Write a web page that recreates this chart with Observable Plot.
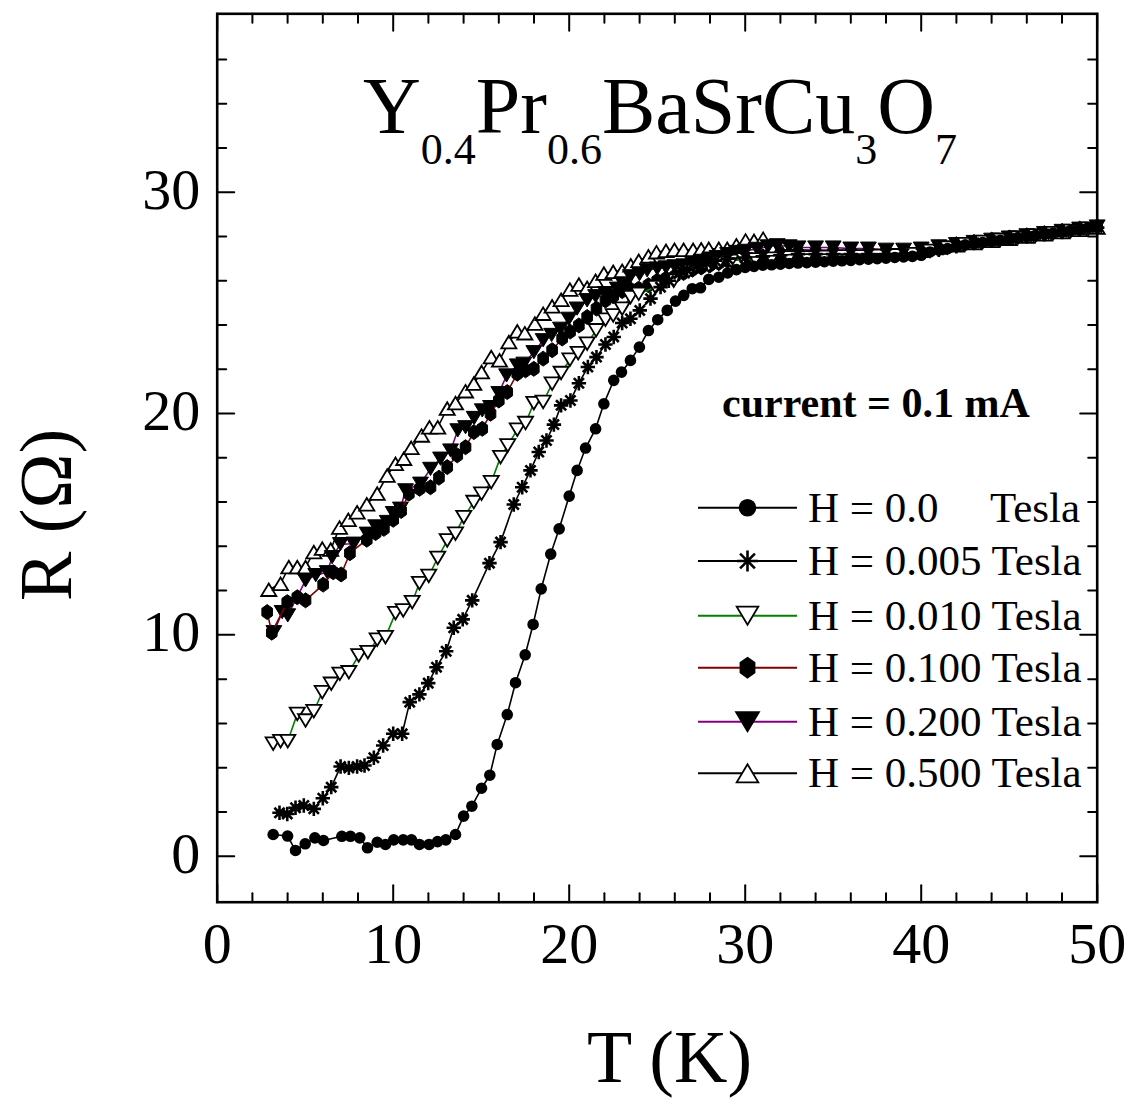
<!DOCTYPE html>
<html>
<head>
<meta charset="utf-8">
<script src="https://cdn.jsdelivr.net/npm/d3@7"></script>
<script src="https://cdn.jsdelivr.net/npm/@observablehq/plot@0.6"></script>
<style>
  html, body { margin: 0; padding: 0; background: #fff; }
  svg { display: block; }
</style>
</head>
<body>
<div id="chart"></div>
<script>
// ---------------- data ----------------
const fieldLabels = ["H = 0.0", "H = 0.005 Tesla", "H = 0.010 Tesla", "H = 0.100 Tesla", "H = 0.200 Tesla", "H = 0.500 Tesla"];

const T_000 = [3.18,4.0,4.45,5.0,5.55,6.04,7.08,7.57,8.1,8.54,9.09,9.56,10.03,10.57,11.04,11.49,12.04,12.52,12.99,13.54,14.0,14.47,15.02,15.49,15.91,16.48,16.95,17.5,17.95,18.41,18.95,19.43,20.0,20.45,20.93,21.5,21.97,22.53,22.97,23.48,23.99,24.5,25.03,25.57,26.04,26.51,26.99,27.46,27.93,28.5,29.0,29.5,30.0,30.5,31.0,31.5,32.0,32.5,33.0,33.5,34.0,34.5,35.0,35.5,36.0,36.5,37.0,37.5,38.0,38.5,39.0,39.5,40.0,40.5,41.0,41.5,42.0,42.5,43.0,43.5,44.0,44.5,45.0,45.5,46.0,46.5,47.0,47.5,48.0,48.5,49.0,49.5,50.0];
const R_000 = [0.98,0.91,0.26,0.56,0.83,0.71,0.90,0.90,0.83,0.38,0.63,0.53,0.74,0.74,0.74,0.53,0.53,0.66,0.74,0.98,1.81,2.26,3.07,3.66,5.05,6.40,7.84,9.10,10.47,12.08,13.65,14.79,16.27,17.43,18.44,19.31,20.44,21.5,21.87,22.4,23.0,23.75,24.24,24.66,25.08,25.34,25.64,25.68,26.06,26.16,26.35,26.5,26.6,26.65,26.7,26.72,26.75,26.78,26.8,26.82,26.84,26.86,26.88,26.9,26.92,26.95,26.97,27.0,27.02,27.05,27.08,27.1,27.15,27.3,27.38,27.45,27.55,27.62,27.68,27.73,27.78,27.83,27.9,27.95,28.0,28.05,28.1,28.15,28.22,28.28,28.33,28.4,28.45];

const T_005 = [3.54,3.98,4.45,4.92,5.49,6.0,6.48,7.01,7.48,7.95,8.37,8.9,9.43,10.0,10.51,10.94,11.49,11.99,12.46,13.01,13.44,13.95,14.49,15.47,16.1,16.85,17.33,17.8,18.27,18.71,19.13,19.54,20.07,20.55,21.06,21.55,22.06,22.53,23.01,23.48,24.01,24.62,25.19,25.66,26.23,26.7,27.27,27.8,28.3,29.0,30.0,31.0,32.0,33.0,34.0,35.0,36.0,37.0,38.0,39.0,40.0,41.0,42.0,43.0,44.0,45.0,46.0,47.0,48.0,49.0,50.0];
const R_005 = [1.96,1.91,2.19,2.29,2.14,2.62,3.12,4.05,3.99,4.05,4.10,4.45,5.0,5.53,5.53,6.96,7.31,7.82,8.54,9.26,10.32,10.7,11.56,13.24,14.19,15.89,16.67,17.43,18.26,18.78,19.5,20.37,20.59,21.37,22.1,22.55,23.12,23.46,24.09,24.28,24.66,25.19,25.71,26.0,26.32,26.5,26.69,26.8,26.9,27.0,27.05,27.1,27.15,27.2,27.2,27.2,27.2,27.2,27.2,27.22,27.25,27.4,27.55,27.7,27.8,27.9,28.0,28.1,28.2,28.3,28.4];

const T_010 = [3.18,3.6,4.01,4.55,5.02,5.49,5.97,6.48,6.97,7.48,8.04,8.56,9.09,9.56,10.13,10.57,11.08,11.49,12.02,12.53,13.07,13.54,14.01,14.58,15.02,15.57,16.1,16.51,17.05,17.52,17.99,18.52,19.03,19.54,20.04,20.51,21.02,21.53,22.06,22.5,23.01,23.48,23.95,24.9,25.94,26.8,27.93,28.5,29.2,29.92,30.58,31.5,32.5,33.5,34.5,35.5,36.5,37.5,38.5,39.5,40.5,41.5,42.5,43.5,44.5,45.5,46.5,47.5,48.5,49.5];
const R_010 = [5.08,5.2,5.2,6.43,6.13,6.55,7.41,7.79,8.24,8.31,9.07,9.22,9.78,9.9,10.98,11.1,11.48,12.34,12.66,13.48,14.27,14.57,15.32,16.0,16.38,16.9,18.03,18.56,19.27,19.57,20.47,20.52,21.35,21.83,22.43,22.73,23.16,23.76,24.24,24.43,24.74,25.26,25.41,25.71,26.0,26.43,26.69,26.8,26.9,26.96,26.96,27.0,27.05,27.05,27.08,27.1,27.1,27.12,27.15,27.2,27.35,27.5,27.65,27.75,27.85,27.95,28.05,28.15,28.25,28.35];

const T_100 = [2.84,3.1,3.98,4.55,5.02,6.02,6.59,7.04,7.54,8.5,9.0,9.47,10.0,10.45,10.89,11.5,12.12,12.6,13.07,13.64,14.11,14.58,15.06,15.53,16.0,16.48,17.05,17.52,17.99,18.52,19.03,19.6,20.05,20.55,21.02,21.55,22.06,22.5,23.01,23.5,23.95,24.5,25.0,25.5,26.0,26.5,27.0,27.5,28.0,28.5,29.0,30.0,31.0,32.0,33.0,34.0,35.0,36.0,37.0,38.0,39.0,40.0,41.0,42.0,43.0,44.0,45.0,46.0,47.0,48.0,49.0,50.0];
const R_100 = [11.03,10.1,11.48,11.7,11.56,12.27,12.83,12.73,13.69,14.3,14.6,14.79,15.2,15.6,16.38,16.6,16.67,17.1,17.58,18.11,18.48,19.16,19.31,19.99,20.59,20.97,21.8,21.95,22.02,22.48,22.86,23.39,23.7,23.98,24.36,24.74,25.11,25.3,25.53,25.6,25.64,25.8,26.0,26.1,26.2,26.35,26.5,26.6,26.7,26.8,26.9,27.0,27.1,27.2,27.25,27.3,27.3,27.3,27.3,27.3,27.3,27.35,27.5,27.65,27.75,27.85,27.95,28.05,28.15,28.25,28.35,28.45];

const T_200 = [3.22,3.69,4.01,5.02,5.6,6.25,6.53,7.0,7.76,8.52,9.0,9.66,10.0,10.41,10.7,11.55,12.12,12.69,13.26,13.67,14.11,14.6,15.06,15.53,16.0,16.44,17.05,17.42,17.99,18.52,19.0,19.5,19.98,20.45,21.02,21.5,22.06,22.73,23.1,23.48,24.0,24.43,25.0,25.5,26.0,26.51,27.0,27.5,28.0,28.4,29.0,29.5,30.0,30.68,31.3,31.82,32.5,33.0,34.0,35.0,36.0,37.0,38.0,39.0,40.0,41.0,42.0,43.0,44.0,45.0,46.0,47.0,48.0,49.0,50.0];
const R_200 = [10.12,11.03,10.88,12.46,12.7,12.83,13.51,14.1,14.12,14.57,14.9,15.1,15.5,15.7,16.53,16.83,17.5,17.96,18.33,19.24,19.38,19.8,20.14,20.29,20.92,21.72,22.17,22.25,22.77,23.31,23.55,23.83,24.28,24.74,25.11,25.3,25.44,25.64,25.8,26.2,26.3,26.47,26.55,26.6,26.65,26.69,26.8,26.9,27.0,27.07,27.2,27.3,27.35,27.44,27.55,27.6,27.55,27.5,27.5,27.5,27.45,27.45,27.4,27.4,27.45,27.55,27.65,27.75,27.85,27.95,28.05,28.15,28.25,28.35,28.45];

const T_500 = [2.93,3.6,4.07,4.55,5.02,5.49,5.97,6.45,6.95,7.45,7.95,8.5,9.09,9.66,10.13,10.6,11.02,11.61,12.06,12.53,13.07,13.54,14.11,14.58,15.02,15.57,16.04,16.57,17.05,17.48,18.05,18.52,19.03,19.54,20.04,20.55,21.02,21.5,21.97,22.5,23.01,23.5,23.95,24.5,24.96,25.5,25.98,26.5,27.04,27.5,27.93,28.5,28.98,29.5,30.02,30.5,31.02,31.5,32.0,33.0,34.0,35.0,36.0,37.0,38.0,39.0,40.0,41.0,42.0,43.0,44.0,45.0,46.0,47.0,48.0,49.0,50.0];
const R_500 = [12.04,12.31,13.06,13.06,13.06,13.74,13.9,13.85,14.85,15.2,15.54,15.9,16.38,17.2,17.73,17.96,18.45,19.01,19.38,19.38,20.22,20.47,21.01,21.35,21.87,22.55,22.4,23.23,23.71,23.63,24.06,24.51,24.84,25.14,25.6,25.83,25.68,26.0,26.32,26.4,26.45,26.7,26.9,27.1,27.29,27.35,27.4,27.4,27.4,27.42,27.44,27.44,27.44,27.6,27.82,27.8,27.9,27.5,27.4,27.4,27.38,27.38,27.35,27.3,27.3,27.3,27.35,27.5,27.6,27.7,27.8,27.9,28.0,28.1,28.2,28.3,28.4];

const xMajor = [0, 10, 20, 30, 40, 50];
const xMinor = [2,4,6,8,12,14,16,18,22,24,26,28,32,34,36,38,42,44,46,48];
const yMajor = [0, 10, 20, 30];
const yMinor = [2,4,6,8,12,14,16,18,22,24,26,28,32,34,36];

const titleParts = [["Y", false], ["0.4", true], ["Pr", false], ["0.6", true], ["BaSrCu", false], ["3", true], ["O", false], ["7", true]];
const xLabel = "T (K)";
const yLabel = "R (Ω)";
const note = "current = 0.1 mA";

// ---------------- symbols ----------------
const rad = s => Math.sqrt(s / Math.PI);
const symCircle = {draw(c, s) { const r = rad(s); c.moveTo(r, 0); c.arc(0, 0, r, 0, 2 * Math.PI); }};
const symTriDown = {draw(c, s) { const r = rad(s); c.moveTo(-1.2 * r, -r); c.lineTo(1.2 * r, -r); c.lineTo(0, r); c.closePath(); }};
const symTriUp = {draw(c, s) { const r = rad(s); c.moveTo(-1.2 * r, r); c.lineTo(1.2 * r, r); c.lineTo(0, -r); c.closePath(); }};
const symHex = {draw(c, s) { const r = rad(s); for (let k = 0; k < 6; k++) { const a = -Math.PI / 2 + k * Math.PI / 3; const x = 0.9 * r * Math.cos(a), y = 1.1 * r * Math.sin(a); if (k) c.lineTo(x, y); else c.moveTo(x, y); } c.closePath(); }};
const symStar = {draw(c, s) { const r = rad(s); for (let k = 0; k < 4; k++) { const a = k * Math.PI / 4; c.moveTo(r * Math.cos(a), r * Math.sin(a)); c.lineTo(-r * Math.cos(a), -r * Math.sin(a)); } }};

const series = [
  {T: T_000, R: R_000, line: "#000000", symbol: symCircle, fill: "#000", stroke: "none", sw: 0, r: 5.8, lr: 8.8},
  {T: T_005, R: R_005, line: "#000000", symbol: symStar, fill: "none", stroke: "#000", sw: 2.6, r: 7.2, lr: 10.5},
  {T: T_010, R: R_010, line: "#008000", symbol: symTriDown, fill: "#fff", stroke: "#000", sw: 1.8, r: 6.3, lr: 9},
  {T: T_100, R: R_100, line: "#800000", symbol: symHex, fill: "#000", stroke: "#000", sw: 1, r: 6.8, lr: 9},
  {T: T_200, R: R_200, line: "#800080", symbol: symTriDown, fill: "#000", stroke: "#000", sw: 1, r: 6.6, lr: 9.5},
  {T: T_500, R: R_500, line: "#000000", symbol: symTriUp, fill: "#fff", stroke: "#000", sw: 1.8, r: 6.3, lr: 9}
];
series.forEach(s => { s.rows = s.T.slice(0, Math.min(s.T.length, s.R.length)).map((t, i) => ({T: t, R: s.R[i]})); });

const drawOrder = [5, 4, 3, 2, 1, 0];
const dataMarks = [];
for (const i of drawOrder) {
  const s = series[i];
  dataMarks.push(Plot.line(s.rows, {x: "T", y: "R", stroke: s.line, strokeWidth: 1.6}));
  dataMarks.push(Plot.dot(s.rows, {x: "T", y: "R", symbol: s.symbol, r: s.r, fill: s.fill, stroke: s.stroke, strokeWidth: s.sw}));
}

const tickShape = {draw(c, l) { c.moveTo(0, 0); c.lineTo(0, -l); }};
const tickMarks = (vals, len, axis) => axis === "x"
  ? [Plot.vector(vals, {x: d => d, frameAnchor: "bottom", rotate: 0, length: len, anchor: "start", shape: tickShape, stroke: "#000", strokeWidth: 2}),
     Plot.vector(vals, {x: d => d, frameAnchor: "top", rotate: 180, length: len, anchor: "start", shape: tickShape, stroke: "#000", strokeWidth: 2})]
  : [Plot.vector(vals, {y: d => d, frameAnchor: "left", rotate: 90, length: len, anchor: "start", shape: tickShape, stroke: "#000", strokeWidth: 2}),
     Plot.vector(vals, {y: d => d, frameAnchor: "right", rotate: 270, length: len, anchor: "start", shape: tickShape, stroke: "#000", strokeWidth: 2})];

const FONT = "'Liberation Serif', 'Times New Roman', Times, serif";

const chart = Plot.plot({
  width: 1132,
  height: 1099,
  marginLeft: 216.7,
  marginRight: 35.3,
  marginTop: 13.3,
  marginBottom: 197.3,
  style: {fontFamily: FONT, background: "#fff", color: "#000"},
  x: {domain: [0, 50]},
  y: {domain: [-2.078, 38.06]},
  marks: [
    ...dataMarks,
    ...tickMarks(xMajor, 17, "x"),
    ...tickMarks(xMinor, 9, "x"),
    ...tickMarks(yMajor, 17, "y"),
    ...tickMarks(yMinor, 9, "y"),
    Plot.axisX(xMajor, {tickSize: 0, tickPadding: 20, fontSize: 58, label: null}),
    Plot.axisY(yMajor, {tickSize: 0, tickPadding: 17, fontSize: 58, label: null, dy: -2}),
    Plot.frame({stroke: "#000", strokeWidth: 2.6})
  ]
});

document.getElementById("chart").appendChild(chart);

// ---------------- annotations ----------------
const svg = d3.select(chart);
const addText = (x, y, size) => svg.append("text").attr("x", x).attr("y", y)
  .attr("text-anchor", "start").style("font-family", FONT).style("font-size", size + "px").attr("fill", "#000");

// title with subscripts
const title = addText(363, 133.3, 80);
let sub = false;
for (const [txt, isSub] of titleParts) {
  const dy = isSub === sub ? 0 : (isSub ? 30.5 : -30.5);
  title.append("tspan").attr("dy", dy).style("font-size", isSub ? "44px" : "80px").text(txt);
  sub = isSub;
}

// current note
addText(722, 417.3, 42).style("font-weight", "bold").text(note);

// axis labels
addText(587, 1081.7, 74).text(xLabel);
svg.append("text").attr("transform", "translate(71,515) rotate(-90)").attr("text-anchor", "middle")
  .style("font-family", FONT).style("font-size", "74px").attr("fill", "#000").text(yLabel);

// legend
const legendY = [507.7, 561, 615.7, 667.7, 721.7, 773.3];
const lg = svg.append("g");
series.forEach((s, i) => {
  const y = legendY[i];
  lg.append("line").attr("x1", 698).attr("x2", 797).attr("y1", y).attr("y2", y)
    .attr("stroke", s.line).attr("stroke-width", 2);
  lg.append("path").attr("transform", `translate(747.5,${y})`)
    .attr("d", d3.symbol(s.symbol, Math.PI * s.lr * s.lr)())
    .attr("fill", s.fill).attr("stroke", s.stroke === "none" ? "none" : s.stroke)
    .attr("stroke-width", s.sw ? Math.max(s.sw, 1.8) : 0);
  addText(808, y + 14, 43).text(fieldLabels[i]);
  if (i === 0) addText(990, y + 14, 43).text("Tesla");
});
</script>
</body>
</html>
